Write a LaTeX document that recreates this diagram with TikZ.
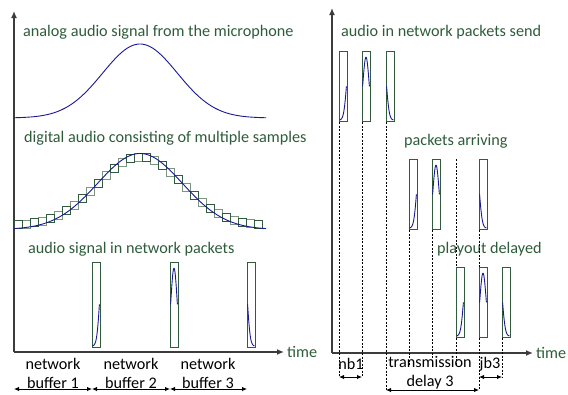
\documentclass[tikz,border=0pt]{standalone}
\usepackage{fontspec}
\setmainfont{Carlito}
\usetikzlibrary{arrows.meta,positioning}

\definecolor{txtgreen}{RGB}{46,92,58}
\definecolor{pktgreen}{RGB}{50,90,60}
\definecolor{smpgreen}{RGB}{125,150,130}
\definecolor{sigblue}{RGB}{25,25,150}
\definecolor{axisgray}{RGB}{60,60,60}

\tikzset{
  pkt/.style={draw=pktgreen, line width=1.1pt, minimum width=8pt, inner sep=0pt, anchor=north west},
  lbl/.style={text=txtgreen, anchor=west, inner sep=0pt},
  note/.style={align=center, inner sep=0pt},
  sig/.style={sigblue, line width=0.9pt},
  axis/.style={axisgray, line width=1.6pt, -{Latex[length=7pt,width=6pt]}},
  guide/.style={dash pattern=on 2pt off 1.5pt, line width=0.7pt},
  span/.style={{Latex[length=5pt,width=4.5pt]}-{Latex[length=5pt,width=4.5pt]}, line width=0.9pt},
}

% part of the wave inside a packet: node, from, to, height
\newcommand{\wave}[4]{%
  \begin{scope}[shift={(#1.south west)}]
    \draw[sig] plot[domain=#2:#3, samples=20]
      ({0.6+(\x-(#2))/((#3)-(#2))*6.8}, {-(2+(#4)*exp(-0.693*(\x)*(\x)))});
  \end{scope}
}

\begin{document}
\begin{tikzpicture}[x=1pt, y=-1pt, font=\fontsize{16.2}{19}\selectfont]
    \useasboundingbox (0,0) rectangle (568,394);

    % left axes
    \coordinate (o1) at (14,352);
    \coordinate (y1) at (14,11);
    \coordinate (x1) at (284,352);
    \draw[axis] (o1) -- (y1);
    \draw[axis] (o1) -- (x1);
    \node[lbl] (time1) at (287,352) {time};

    % label
    \node[lbl] (analog) at (23,32) {analog audio signal from the microphone};
    \node[lbl] (digital) at (24,138) {digital audio consisting of multiple samples};
    \node[lbl] (inpkt) at (28,249) {audio signal in network packets};

    \draw[sig] plot[domain=14:266, samples=90] (\x, {118-74*exp(-0.693*((\x-140)/44)^2)});

    % samples
    \foreach \i in {1,3,...,29}
      \draw[smpgreen, line width=1pt] ({14+8*\i}, {222-69*exp(-0.693*((18+8*\i-140)/50)^2)}) rectangle ++(8,8);
    \foreach \i in {0,2,...,30}
      \draw[pktgreen, line width=1pt] ({14+8*\i}, {222-69*exp(-0.693*((18+8*\i-140)/50)^2)}) rectangle ++(8,8);
    \draw[sig] plot[domain=14:266, samples=90] (\x, {229.5-76*exp(-0.693*((\x-140)/50)^2)});

    \node[pkt, minimum height=85pt] (lp1) at (92,262) {};
    \node[pkt, minimum height=85pt] (lp2) at (170,262) {};
    \node[pkt, minimum height=85pt] (lp3) at (247,262) {};
    \wave{lp1}{-2.9}{-0.95}{78}
    \wave{lp2}{-0.95}{0.95}{78}
    \wave{lp3}{0.95}{2.9}{78}

    \node[note] (buf1) at (53,373) {network\\buffer 1};
    \node[note] (buf2) at (131,373) {network\\buffer 2};
    \node[note] (buf3) at (208,373) {network\\buffer 3};

    \coordinate (b0) at (14,389);
    \coordinate (b1) at (92,389);
    \coordinate (b2) at (170,389);
    \coordinate (b3) at (247,389);
    \foreach \from/\to in {b0/b1,b1/b2,b2/b3}
    \draw[span] (\from)--(\to);

    % right axes
    \coordinate (o2) at (332,353);
    \coordinate (y2) at (332,8);
    \coordinate (x2) at (533,353);
    \draw[axis] (o2) -- (y2);
    \draw[axis] (o2) -- (x2);
    \node[lbl] (time2) at (536,353) {time};

    % label
    \node[lbl] (send) at (341,32) {audio in network packets send};
    \node[lbl] (arrive) at (404,141) {packets arriving};
    \node[lbl] (playout) at (437,249) {playout delayed};

    \node[pkt, minimum height=70pt] (sp1) at (339,51) {};
    \node[pkt, minimum height=70pt] (sp2) at (362,51) {};
    \node[pkt, minimum height=70pt] (sp3) at (386,51) {};

    \node[pkt, minimum height=70pt] (ap1) at (409,159) {};
    \node[pkt, minimum height=70pt] (ap2) at (432,159) {};
    \node[pkt, minimum height=70pt] (ap3) at (479,159) {};

    \node[pkt, minimum height=70pt] (pp1) at (456,267) {};
    \node[pkt, minimum height=70pt] (pp2) at (479,267) {};
    \node[pkt, minimum height=70pt] (pp3) at (502,267) {};

    \foreach \p in {sp,ap,pp} {
      \wave{\p1}{-2.9}{-0.95}{63}
      \wave{\p2}{-0.95}{0.95}{63}
      \wave{\p3}{0.95}{2.9}{63}
    }

    \coordinate (nbL) at (339,377);
    \coordinate (nbR) at (362,377);
    \coordinate (tdL) at (386,390);
    \coordinate (tdR) at (479,390);
    \coordinate (jbL) at (479,377);
    \coordinate (jbR) at (502,377);
    \coordinate (ar1) at (409,366);
    \coordinate (ar2) at (432,366);
    \coordinate (gapT) at (456,159);
    \coordinate (gapB) at (456,366);

    \foreach \from/\to in {sp1.south west/nbL,sp2.south west/nbR,sp3.south west/tdL,ap1.south west/ar1,ap2.south west/ar2,gapT/pp1.north west,pp1.south west/gapB,ap3.south west/pp2.north west,pp2.south west/tdR,pp3.south west/jbR}
    \draw[guide] (\from)--(\to);

    \node[inner sep=0pt] (nb) at (351,364) {nb1};
    \node[inner sep=0pt] (jb) at (490,364) {jb3};
    \node[note] (delay) at (430,373) {transmission\\delay 3};

    \foreach \from/\to in {nbL/nbR,jbL/jbR,tdL/tdR}
    \draw[span] (\from)--(\to);

  \end{tikzpicture}
\end{document}
